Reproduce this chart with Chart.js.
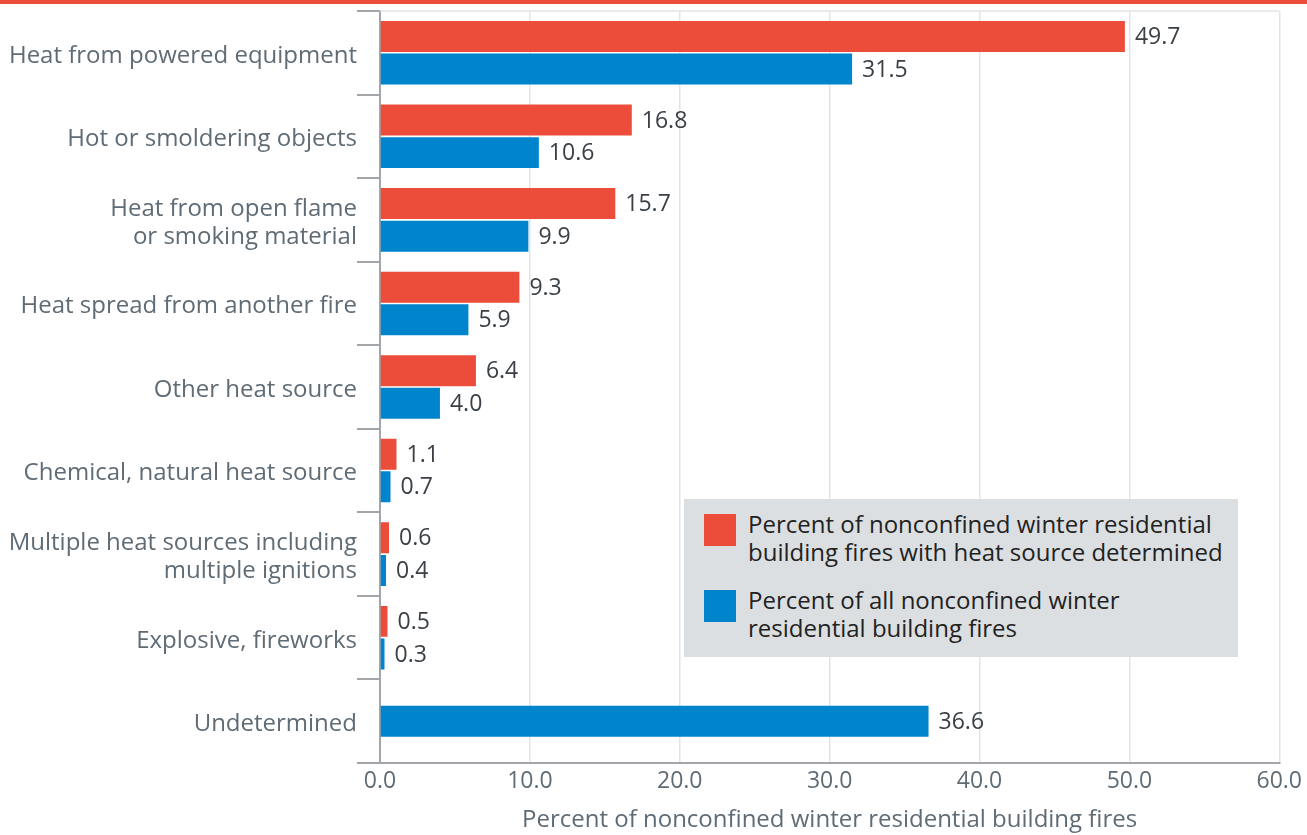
<!DOCTYPE html>
<html>
<head>
<meta charset="utf-8">
<script src="https://cdn.jsdelivr.net/npm/chart.js@4.4.1/dist/chart.umd.min.js"></script>
<style>
  body { margin: 0; background: #fff; font-family: "Open Sans", sans-serif; }
  #wrap { position: relative; width: 1307px; height: 835px; overflow: hidden; }
  #topBand { position: absolute; left: 0; top: 0; width: 1307px; height: 4px; background: #ec4c3a; }
  #legend { position: absolute; left: 684px; top: 499px; width: 554px; height: 158px; background: #dcdfe2; }
  .item { position: absolute; left: 20px; }
  .swatch { position: absolute; left: 0; top: 4px; width: 32px; height: 32px; }
  .label { position: absolute; left: 44px; top: 0; width: 484px; font-size: 24px; line-height: 28px; color: #222; }
</style>
</head>
<body>
<div id="wrap">
  <canvas id="chart"></canvas>
  <div id="topBand"></div>
  <div id="legend"></div>
</div>
<script>
const categories = [
  "Heat from powered equipment",
  "Hot or smoldering objects",
  ["Heat from open flame", "or smoking material"],
  "Heat spread from another fire",
  "Other heat source",
  "Chemical, natural heat source",
  ["Multiple heat sources including", "multiple ignitions"],
  "Explosive, fireworks",
  "Undetermined"
];
const seriesNames = [
  "Percent of nonconfined winter residential building fires with heat source determined",
  "Percent of all nonconfined winter residential building fires"
];
const determinedValues = [49.7, 16.8, 15.7, 9.3, 6.4, 1.1, 0.6, 0.5, null];
const allValues = [31.5, 10.6, 9.9, 5.9, 4.0, 0.7, 0.4, 0.3, 36.6];
const seriesColors = ["#ec4c3a", "#0084cc"];
const xTicks = [0, 10, 20, 30, 40, 50, 60];

const axisGray = "#a2a6aa";
const textGray = "#5f6b75";

// value labels at the end of each bar
const valueLabels = {
  id: "valueLabels",
  afterDatasetsDraw(chart) {
    const ctx = chart.ctx;
    ctx.save();
    ctx.font = '23px "Open Sans"';
    ctx.fillStyle = "#3a4046";
    ctx.textBaseline = "middle";
    ctx.textAlign = "left";
    chart.data.datasets.forEach((ds, i) => {
      chart.getDatasetMeta(i).data.forEach((bar, j) => {
        const v = ds.data[j];
        if (v === null) return;
        ctx.fillText(v.toFixed(1), bar.x + 10, bar.y + 1);
      });
    });
    ctx.restore();
  }
};

// light frame line along the top of the plot
const topFrame = {
  id: "topFrame",
  beforeDatasetsDraw(chart) {
    const { ctx, chartArea } = chart;
    ctx.save();
    ctx.strokeStyle = "#e2e4e6";
    ctx.lineWidth = 1.5;
    ctx.beginPath();
    ctx.moveTo(chartArea.left, chartArea.top);
    ctx.lineTo(chartArea.right, chartArea.top);
    ctx.stroke();
    ctx.restore();
  }
};

Chart.defaults.font.family = '"Open Sans", sans-serif';

new Chart(document.getElementById("chart"), {
  type: "bar",
  data: {
    labels: categories,
    datasets: [
      { label: seriesNames[0], data: determinedValues, backgroundColor: seriesColors[0], skipNull: true, maxBarThickness: 31 },
      { label: seriesNames[1], data: allValues, backgroundColor: seriesColors[1], skipNull: true, maxBarThickness: 31 }
    ]
  },
  options: {
    indexAxis: "y",
    responsive: true,
    maintainAspectRatio: false,
    animation: false,
    categoryPercentage: 0.78,
    barPercentage: 0.95,
    layout: { padding: { top: 11, right: 26, left: 0, bottom: 0 } },
    plugins: { legend: { display: false }, tooltip: { enabled: false } },
    scales: {
      y: {
        afterFit(scale) {
          scale.width = 380;
          scale.paddingTop = 0;
          scale.paddingBottom = 0;
        },
        grid: { offset: true, drawOnChartArea: false, color: axisGray, lineWidth: 2, tickLength: 23 },
        border: { color: axisGray, width: 2 },
        ticks: { color: textGray, padding: 0, labelOffset: 3, font: { size: 24, lineHeight: 1.17 } }
      },
      x: {
        min: xTicks[0],
        max: xTicks[xTicks.length - 1],
        afterFit(scale) { scale.height = 72; },
        afterBuildTicks(scale) { scale.ticks = xTicks.map(v => ({ value: v })); },
        grid: { color: "#e2e4e6", lineWidth: 1.5, drawTicks: false },
        border: { color: axisGray, width: 2 },
        ticks: { color: textGray, padding: 5, font: { size: 23 }, callback: v => v.toFixed(1) },
        title: {
          display: true,
          text: "Percent of nonconfined winter residential building fires",
          color: textGray,
          font: { size: 24 },
          padding: 0
        }
      }
    }
  },
  plugins: [valueLabels, topFrame]
});

// legend box
const legend = document.getElementById("legend");
const itemTops = [11, 87];
seriesNames.forEach((name, i) => {
  const item = document.createElement("div");
  item.className = "item";
  item.style.top = itemTops[i] + "px";
  item.innerHTML = `<div class="swatch" style="background:${seriesColors[i]}"></div><div class="label">${name}</div>`;
  legend.appendChild(item);
});
</script>
</body>
</html>
